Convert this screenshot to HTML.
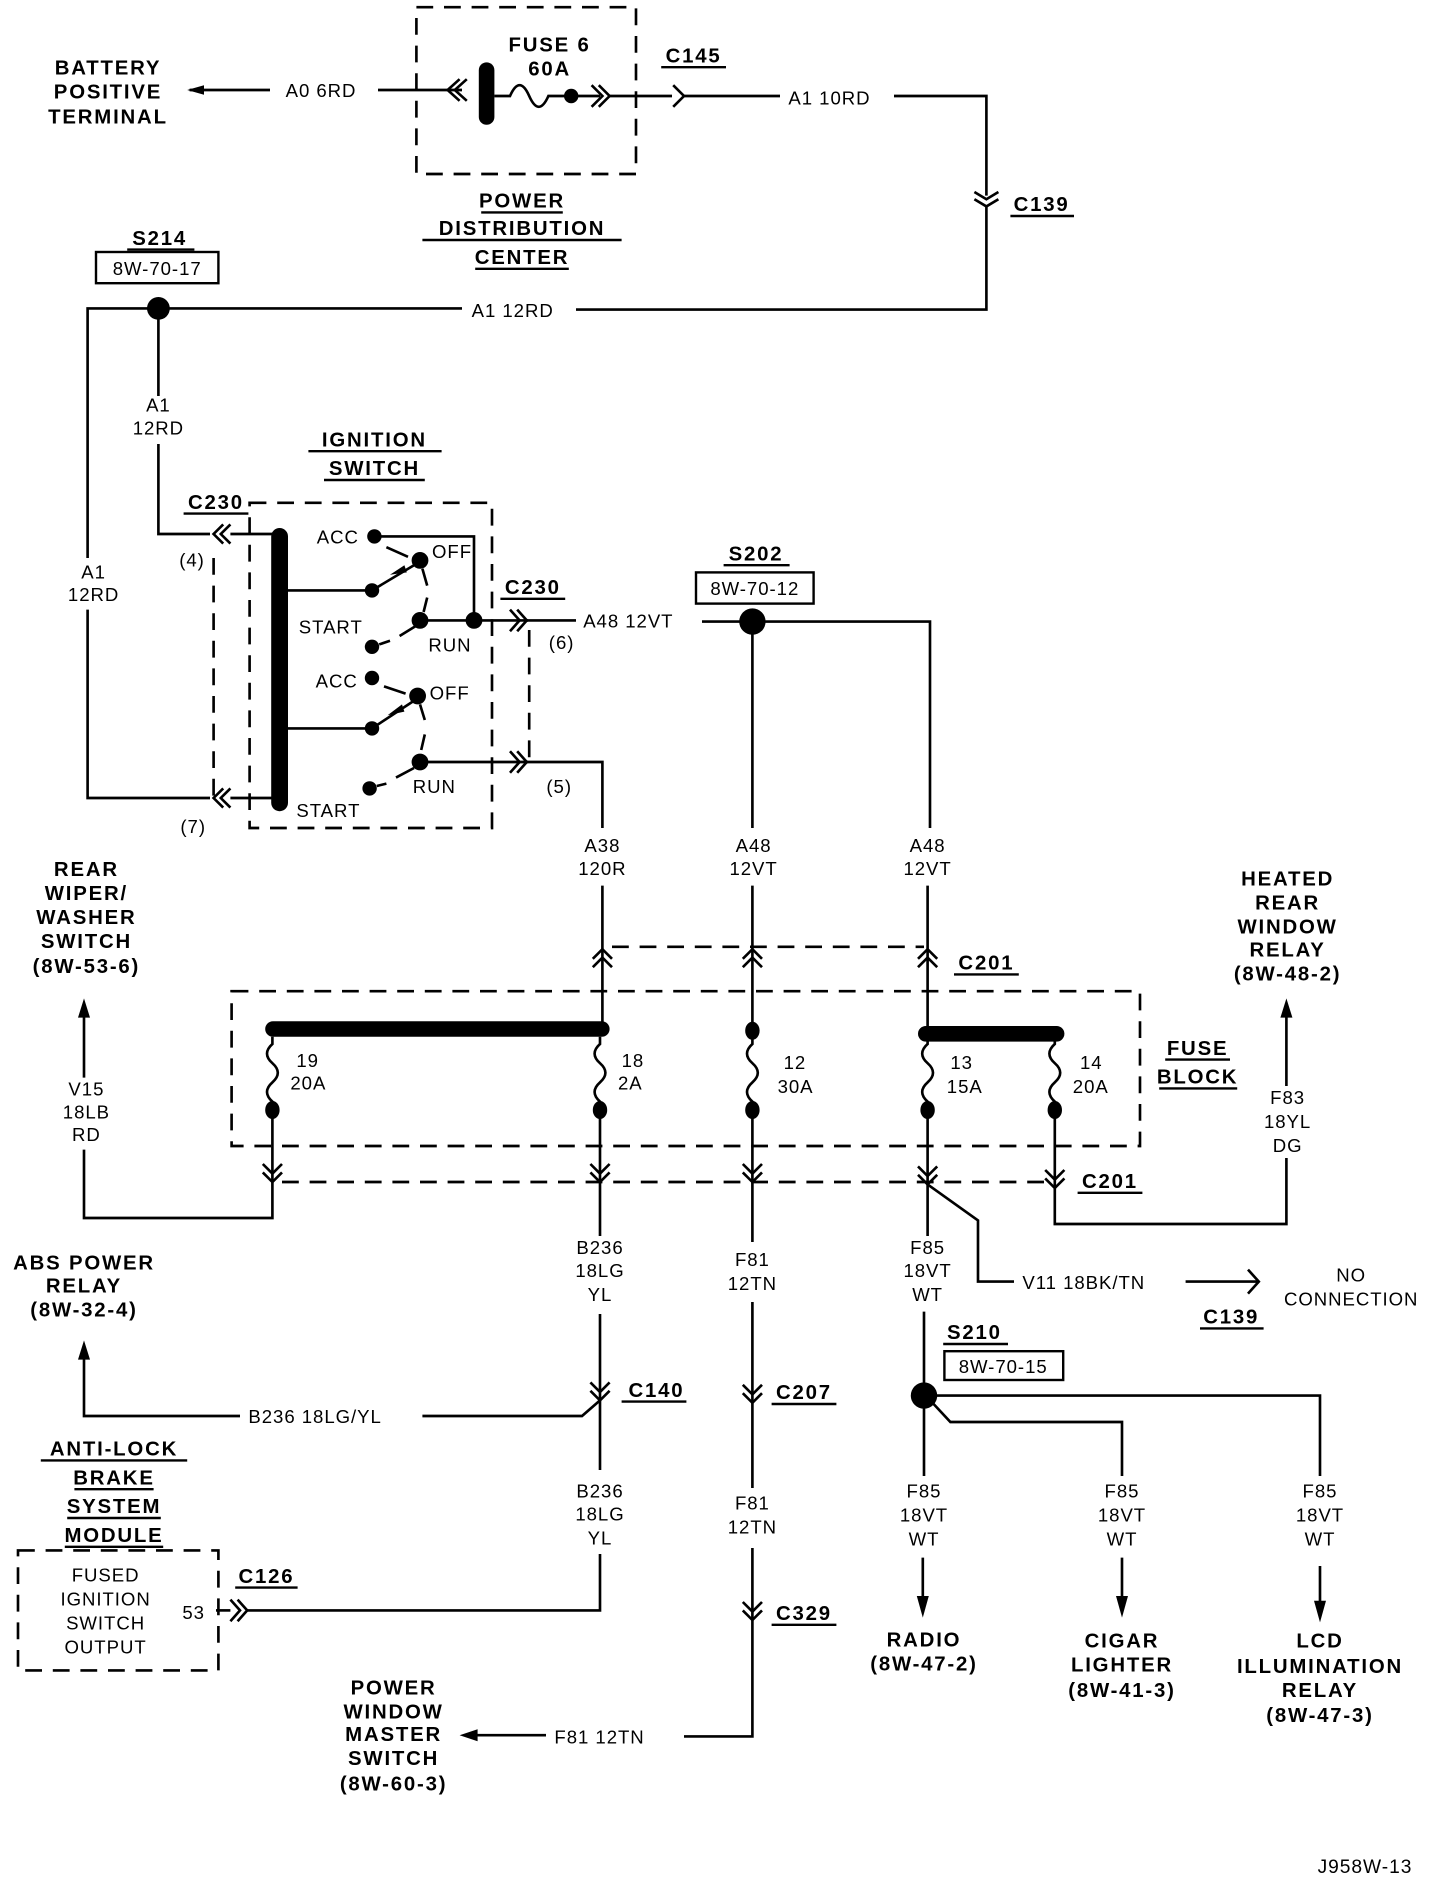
<!DOCTYPE html>
<html><head><meta charset="utf-8"><style>
html,body{margin:0;padding:0;background:#fff;}
svg{display:block;}
.h{font-family:"Liberation Sans",sans-serif;font-weight:bold;font-size:17px;letter-spacing:1.5px;text-anchor:middle;}
.l{font-family:"Liberation Sans",sans-serif;font-size:15.5px;letter-spacing:0.8px;text-anchor:middle;}
.ls{font-family:"Liberation Sans",sans-serif;font-size:15.5px;letter-spacing:0.8px;text-anchor:start;}
.w{fill:none;stroke:#000;stroke-width:2.2;}
.d{fill:none;stroke:#000;stroke-width:2.2;stroke-dasharray:14 9;}
.u{stroke:#000;stroke-width:2;}
</style></head><body>
<svg width="1440" height="1886" viewBox="0 0 1200 1571.67" xmlns="http://www.w3.org/2000/svg">
<rect width="1200" height="1571.67" fill="#fff"/>

<!-- TOP: battery / PDC -->
<text class="h" x="90" y="62">BATTERY</text>
<text class="h" x="90" y="82">POSITIVE</text>
<text class="h" x="90" y="103">TERMINAL</text>
<polygon points="156,75 170,71 170,79"/>
<path class="w" d="M158 75 H225"/>
<text class="ls" x="238" y="81">A0  6RD</text>
<path class="w" d="M315 75 H385"/>
<rect class="d" x="347" y="6" width="183" height="139"/>
<path class="w" d="M383 66 L373 75 L383 84 M389 66 L379 75 L389 84"/>
<rect x="399" y="52" width="13" height="52" rx="6.5"/>
<path class="w" d="M412 80 H425 Q433 62 441 80 Q449 98 457 80 H500"/>
<circle cx="476" cy="80" r="6"/>
<path class="w" d="M493 71 L502 80 L493 89 M499 71 L508 80 L499 89"/>
<path class="w" d="M508 80 H560"/>
<path class="w" d="M561 71 L570 80 L561 89"/>
<path class="w" d="M570 80 H650"/>
<text class="h" x="458" y="43">FUSE 6</text>
<text class="h" x="458" y="63">60A</text>
<text class="h" x="578" y="52">C145</text><path class="u" d="M551 56 H605"/>
<text class="ls" x="657" y="87">A1  10RD</text>
<path class="w" d="M745 80 H822 V163"/>
<path class="w" d="M812 160 L822 166 L832 160 M812 166 L822 172 L832 166"/>
<path class="w" d="M822 172 V258 H480"/>
<text class="h" x="868" y="176">C139</text><path class="u" d="M842 180 H895"/>
<text class="h" x="435" y="173">POWER</text><path class="u" d="M401 177 H469"/>
<text class="h" x="435" y="196">DISTRIBUTION</text><path class="u" d="M352 200 H518"/>
<text class="h" x="435" y="220">CENTER</text><path class="u" d="M396 224 H474"/>
<text class="ls" x="393" y="264">A1  12RD</text>
<path class="w" d="M132 257 H385"/>
<circle cx="132" cy="257" r="9.5"/>
<text class="h" x="133" y="204">S214</text><path class="u" d="M106 208 H162"/>
<rect x="80" y="210" width="102" height="26" fill="none" stroke="#000" stroke-width="2"/>
<text class="l" x="131" y="229">8W-70-17</text>

<!-- left loop -->
<path class="w" d="M123 257 H73 V465 M73 508 V665 H175"/>
<text class="l" x="78" y="482">A1</text>
<text class="l" x="78" y="501">12RD</text>
<path class="w" d="M132 257 V330 M132 370 V445 H175"/>
<text class="l" x="132" y="343">A1</text>
<text class="l" x="132" y="362">12RD</text>

<!-- ignition switch -->
<text class="h" x="312" y="372">IGNITION</text><path class="u" d="M257 376 H368"/>
<text class="h" x="312" y="396">SWITCH</text><path class="u" d="M270 400 H354"/>
<text class="h" x="180" y="424">C230</text><path class="u" d="M153 428 H207"/>
<path class="w" d="M186 437 L178 445 L186 453 M192 437 L184 445 L192 453"/>
<path class="w" d="M186 657 L178 665 L186 673 M192 657 L184 665 L192 673"/>
<path class="w" d="M192 445 H232 M192 665 H232"/>
<text class="l" x="160" y="472">(4)</text>
<text class="l" x="161" y="694">(7)</text>
<rect class="d" x="208" y="419" width="202" height="271"/>
<path class="d" d="M178 465 V670"/>
<path class="d" d="M441 525 V640"/>
<rect x="226" y="440" width="14" height="236" rx="7"/>
<!-- upper switch -->
<path class="w" d="M240 492 H305"/>
<circle cx="310" cy="492" r="6"/>
<path class="w" d="M310 492 L350 468"/>
<polygon points="325,479 337,471 339,477"/>
<circle cx="312" cy="447" r="6"/>
<path class="w" d="M312 447 H395 V517"/>
<circle cx="350" cy="467" r="7"/>
<path class="w" d="M322 456 L340 464 M352 474 L356 488 M356 498 L353 510"/>
<text class="ls" x="264" y="453">ACC</text>
<text class="ls" x="360" y="465">OFF</text>
<circle cx="350" cy="517" r="7"/>
<path class="w" d="M350 517 H440"/>
<circle cx="395" cy="517" r="7"/>
<circle cx="310" cy="539" r="6"/>
<path class="w" d="M316 537 L325 534 M333 530 L346 522"/>
<text class="ls" x="249" y="528">START</text>
<text class="ls" x="357" y="543">RUN</text>
<path class="w" d="M425 508 L433 517 L425 526 M431 508 L439 517 L431 526"/>
<text class="h" x="444" y="495">C230</text><path class="u" d="M417 499 H471"/>
<text class="l" x="468" y="541">(6)</text>
<path class="w" d="M439 517 H480"/>
<text class="ls" x="486" y="523">A48  12VT</text>
<path class="w" d="M585 518 H627"/>
<circle cx="627" cy="518" r="11"/>
<path class="w" d="M627 518 H775 V690 M627 518 V690"/>
<text class="h" x="630" y="467">S202</text><path class="u" d="M603 471 H658"/>
<rect x="580" y="477" width="98" height="26" fill="none" stroke="#000" stroke-width="2"/>
<text class="l" x="629" y="496">8W-70-12</text>
<!-- lower switch -->
<path class="w" d="M240 607 H305"/>
<circle cx="310" cy="607" r="6"/>
<path class="w" d="M310 607 L348 582"/>
<polygon points="323,596 335,587 337,593"/>
<circle cx="310" cy="565" r="6"/>
<circle cx="348" cy="580" r="7"/>
<path class="w" d="M320 572 L338 578 M350 587 L354 600 M354 612 L351 625"/>
<text class="ls" x="263" y="573">ACC</text>
<text class="ls" x="358" y="583">OFF</text>
<circle cx="350" cy="635" r="7"/>
<path class="w" d="M350 635 H440"/>
<circle cx="308" cy="657" r="6"/>
<path class="w" d="M314 655 L322 653 M330 648 L345 640"/>
<text class="ls" x="247" y="681">START</text>
<text class="ls" x="344" y="661">RUN</text>
<path class="w" d="M425 626 L433 635 L425 644 M431 626 L439 635 L431 644"/>
<path class="w" d="M439 635 H502 V690"/>
<text class="l" x="466" y="661">(5)</text>

<!-- labels above fuse block -->
<text class="l" x="502" y="710">A38</text><text class="l" x="502" y="729">120R</text>
<text class="l" x="628" y="710">A48</text><text class="l" x="628" y="729">12VT</text>
<text class="l" x="773" y="710">A48</text><text class="l" x="773" y="729">12VT</text>
<path class="w" d="M502 738 V858 M627 738 V858 M773 738 V862"/>
<path class="w" d="M494 799 L502 791 L510 799 M494 806 L502 798 L510 806"/>
<path class="w" d="M619 799 L627 791 L635 799 M619 806 L627 798 L635 806"/>
<path class="w" d="M765 799 L773 791 L781 799 M765 806 L773 798 L781 806"/>
<path class="d" d="M510 789 H770"/>
<text class="h" x="822" y="808">C201</text><path class="u" d="M795 812 H849"/>

<!-- fuse block -->
<rect class="d" x="193" y="826" width="757" height="129"/>
<text class="h" x="998" y="879">FUSE</text><path class="u" d="M971 883 H1025"/>
<text class="h" x="998" y="903">BLOCK</text><path class="u" d="M966 907 H1031"/>
<rect x="221" y="851" width="287" height="13" rx="6.5"/>
<rect x="765" y="855" width="122" height="13" rx="6.5"/>
<path class="w" d="M227 864 V870 Q218 878 227 886 Q236 894 227 902 Q218 910 227 918 V985"/>
<path class="w" d="M500 864 V870 Q491 878 500 886 Q509 894 500 902 Q491 910 500 918 V1030"/>
<path class="w" d="M627 858 V870 Q618 878 627 886 Q636 894 627 902 Q618 910 627 918 V1035"/>
<path class="w" d="M773 864 V870 Q764 878 773 886 Q782 894 773 902 Q764 910 773 918 V1030"/>
<path class="w" d="M879 864 V870 Q870 878 879 886 Q888 894 879 902 Q870 910 879 918 V1020 H1072 V845"/>
<ellipse cx="627" cy="859" rx="6" ry="7.5"/>
<ellipse cx="227" cy="925" rx="6" ry="7.5"/><ellipse cx="500" cy="925" rx="6" ry="7.5"/>
<ellipse cx="627" cy="925" rx="6" ry="7.5"/><ellipse cx="773" cy="925" rx="6" ry="7.5"/>
<ellipse cx="879" cy="925" rx="6" ry="7.5"/>
<text class="ls" x="247" y="889">19</text><text class="ls" x="242" y="908">20A</text>
<text class="ls" x="518" y="889">18</text><text class="ls" x="515" y="908">2A</text>
<text class="ls" x="653" y="891">12</text><text class="ls" x="648" y="911">30A</text>
<text class="ls" x="792" y="891">13</text><text class="ls" x="789" y="911">15A</text>
<text class="ls" x="900" y="891">14</text><text class="ls" x="894" y="911">20A</text>
<!-- lower connectors -->
<path class="w" d="M219 970 L227 978 L235 970 M219 977 L227 985 L235 977"/>
<path class="w" d="M492 970 L500 978 L508 970 M492 977 L500 985 L508 977"/>
<path class="w" d="M619 970 L627 978 L635 970 M619 977 L627 985 L635 977"/>
<path class="w" d="M765 972 L773 980 L781 972 M765 979 L773 987 L781 979"/>
<path class="w" d="M871 975 L879 983 L887 975 M871 982 L879 990 L887 982"/>
<path class="d" d="M235 985 H870"/>
<text class="h" x="925" y="990">C201</text><path class="u" d="M898 994 H952"/>

<!-- left branch V15 -->
<path class="w" d="M227 985 V1015 H70 V958 M70 898 V845"/>
<polygon points="70,832 65,848 75,848"/>
<text class="l" x="72" y="913">V15</text><text class="l" x="72" y="932">18LB</text><text class="l" x="72" y="951">RD</text>
<text class="h" x="72" y="730">REAR</text>
<text class="h" x="72" y="750">WIPER/</text>
<text class="h" x="72" y="770">WASHER</text>
<text class="h" x="72" y="790">SWITCH</text>
<text class="h" x="72" y="811">(8W-53-6)</text>
<!-- right branch F83 -->
<polygon points="1072,832 1067,848 1077,848"/>
<rect x="1050" y="905" width="45" height="60" fill="#fff"/>
<text class="l" x="1073" y="920">F83</text><text class="l" x="1073" y="940">18YL</text><text class="l" x="1073" y="960">DG</text>
<text class="h" x="1073" y="738">HEATED</text>
<text class="h" x="1073" y="758">REAR</text>
<text class="h" x="1073" y="778">WINDOW</text>
<text class="h" x="1073" y="797">RELAY</text>
<text class="h" x="1073" y="817">(8W-48-2)</text>

<!-- B236 -->
<rect x="475" y="1030" width="50" height="62" fill="#fff"/>
<text class="l" x="500" y="1045">B236</text><text class="l" x="500" y="1064">18LG</text><text class="l" x="500" y="1084">YL</text>
<path class="w" d="M500 1095 V1225"/>
<path class="w" d="M492 1152 L500 1160 L508 1152 M492 1159 L500 1167 L508 1159"/>
<path class="w" d="M352 1180 H485 L500 1167"/>
<text class="h" x="547" y="1164">C140</text><path class="u" d="M518 1168 H572"/>
<text class="ls" x="207" y="1186">B236  18LG/YL</text>
<path class="w" d="M200 1180 H70 V1130"/>
<polygon points="70,1117 65,1133 75,1133"/>
<text class="h" x="70" y="1058">ABS POWER</text>
<text class="h" x="70" y="1077">RELAY</text>
<text class="h" x="70" y="1097">(8W-32-4)</text>
<text class="l" x="500" y="1248">B236</text><text class="l" x="500" y="1267">18LG</text><text class="l" x="500" y="1287">YL</text>
<path class="w" d="M500 1295 V1342 H205"/>
<path class="w" d="M192 1333 L200 1342 L192 1351 M198 1333 L206 1342 L198 1351"/>
<path class="w" d="M180 1342 H192"/>
<text class="ls" x="152" y="1349">53</text>
<text class="h" x="222" y="1319">C126</text><path class="u" d="M196 1323 H248"/>
<rect class="d" x="15" y="1292" width="167" height="100"/>
<text class="l" x="88" y="1318">FUSED</text>
<text class="l" x="88" y="1338">IGNITION</text>
<text class="l" x="88" y="1358">SWITCH</text>
<text class="l" x="88" y="1378">OUTPUT</text>
<text class="h" x="95" y="1213">ANTI-LOCK</text><path class="u" d="M34 1217 H156"/>
<text class="h" x="95" y="1237">BRAKE</text><path class="u" d="M62 1241 H128"/>
<text class="h" x="95" y="1261">SYSTEM</text><path class="u" d="M56 1265 H134"/>
<text class="h" x="95" y="1285">MODULE</text><path class="u" d="M54 1289 H136"/>

<!-- F81 -->
<rect x="600" y="1037" width="55" height="45" fill="#fff"/>
<text class="l" x="627" y="1055">F81</text><text class="l" x="627" y="1075">12TN</text>
<path class="w" d="M627 1085 V1240"/>
<path class="w" d="M619 1154 L627 1162 L635 1154 M619 1161 L627 1169 L635 1161"/>
<text class="h" x="670" y="1166">C207</text><path class="u" d="M643 1170 H697"/>
<text class="l" x="627" y="1258">F81</text><text class="l" x="627" y="1278">12TN</text>
<path class="w" d="M627 1290 V1447 H570"/>
<path class="w" d="M619 1335 L627 1343 L635 1335 M619 1342 L627 1350 L635 1342"/>
<text class="h" x="670" y="1350">C329</text><path class="u" d="M643 1354 H697"/>
<text class="ls" x="462" y="1453">F81  12TN</text>
<path class="w" d="M455 1446 H395"/>
<polygon points="383,1446 398,1441 398,1451"/>
<text class="h" x="328" y="1412">POWER</text>
<text class="h" x="328" y="1432">WINDOW</text>
<text class="h" x="328" y="1451">MASTER</text>
<text class="h" x="328" y="1471">SWITCH</text>
<text class="h" x="328" y="1492">(8W-60-3)</text>

<!-- F85 / V11 -->
<path class="w" d="M773 987 L815 1017 V1068 H845"/>
<text class="ls" x="852" y="1074">V11  18BK/TN</text>
<path class="w" d="M988 1068 H1048 M1040 1058 L1049 1068 L1040 1078"/>
<text class="l" x="1126" y="1068">NO</text>
<text class="l" x="1126" y="1088">CONNECTION</text>
<text class="h" x="1026" y="1103">C139</text><path class="u" d="M1000 1107 H1053"/>
<rect x="748" y="1030" width="50" height="62" fill="#fff"/>
<text class="l" x="773" y="1045">F85</text><text class="l" x="773" y="1064">18VT</text><text class="l" x="773" y="1084">WT</text>
<path class="w" d="M770 1093 V1230"/>
<circle cx="770" cy="1163" r="11"/>
<text class="h" x="812" y="1116">S210</text><path class="u" d="M786 1120 H840"/>
<rect x="787" y="1126" width="99" height="24" fill="none" stroke="#000" stroke-width="2"/>
<text class="l" x="836" y="1144">8W-70-15</text>
<path class="w" d="M780 1163 H1100 V1230"/>
<path class="w" d="M778 1170 L792 1185 H935 V1230"/>
<text class="l" x="770" y="1248">F85</text><text class="l" x="770" y="1268">18VT</text><text class="l" x="770" y="1288">WT</text>
<text class="l" x="935" y="1248">F85</text><text class="l" x="935" y="1268">18VT</text><text class="l" x="935" y="1288">WT</text>
<text class="l" x="1100" y="1248">F85</text><text class="l" x="1100" y="1268">18VT</text><text class="l" x="1100" y="1288">WT</text>
<path class="w" d="M769 1298 V1335 M935 1298 V1335 M1100 1305 V1338"/>
<polygon points="769,1348 764,1330 774,1330"/>
<polygon points="935,1348 930,1330 940,1330"/>
<polygon points="1100,1352 1095,1334 1105,1334"/>
<text class="h" x="770" y="1372">RADIO</text>
<text class="h" x="770" y="1392">(8W-47-2)</text>
<text class="h" x="935" y="1373">CIGAR</text>
<text class="h" x="935" y="1393">LIGHTER</text>
<text class="h" x="935" y="1414">(8W-41-3)</text>
<text class="h" x="1100" y="1373">LCD</text>
<text class="h" x="1100" y="1394">ILLUMINATION</text>
<text class="h" x="1100" y="1414">RELAY</text>
<text class="h" x="1100" y="1435">(8W-47-3)</text>

<text class="ls" x="1098" y="1561" style="font-size:16px">J958W-13</text>
</svg>
</body></html>
